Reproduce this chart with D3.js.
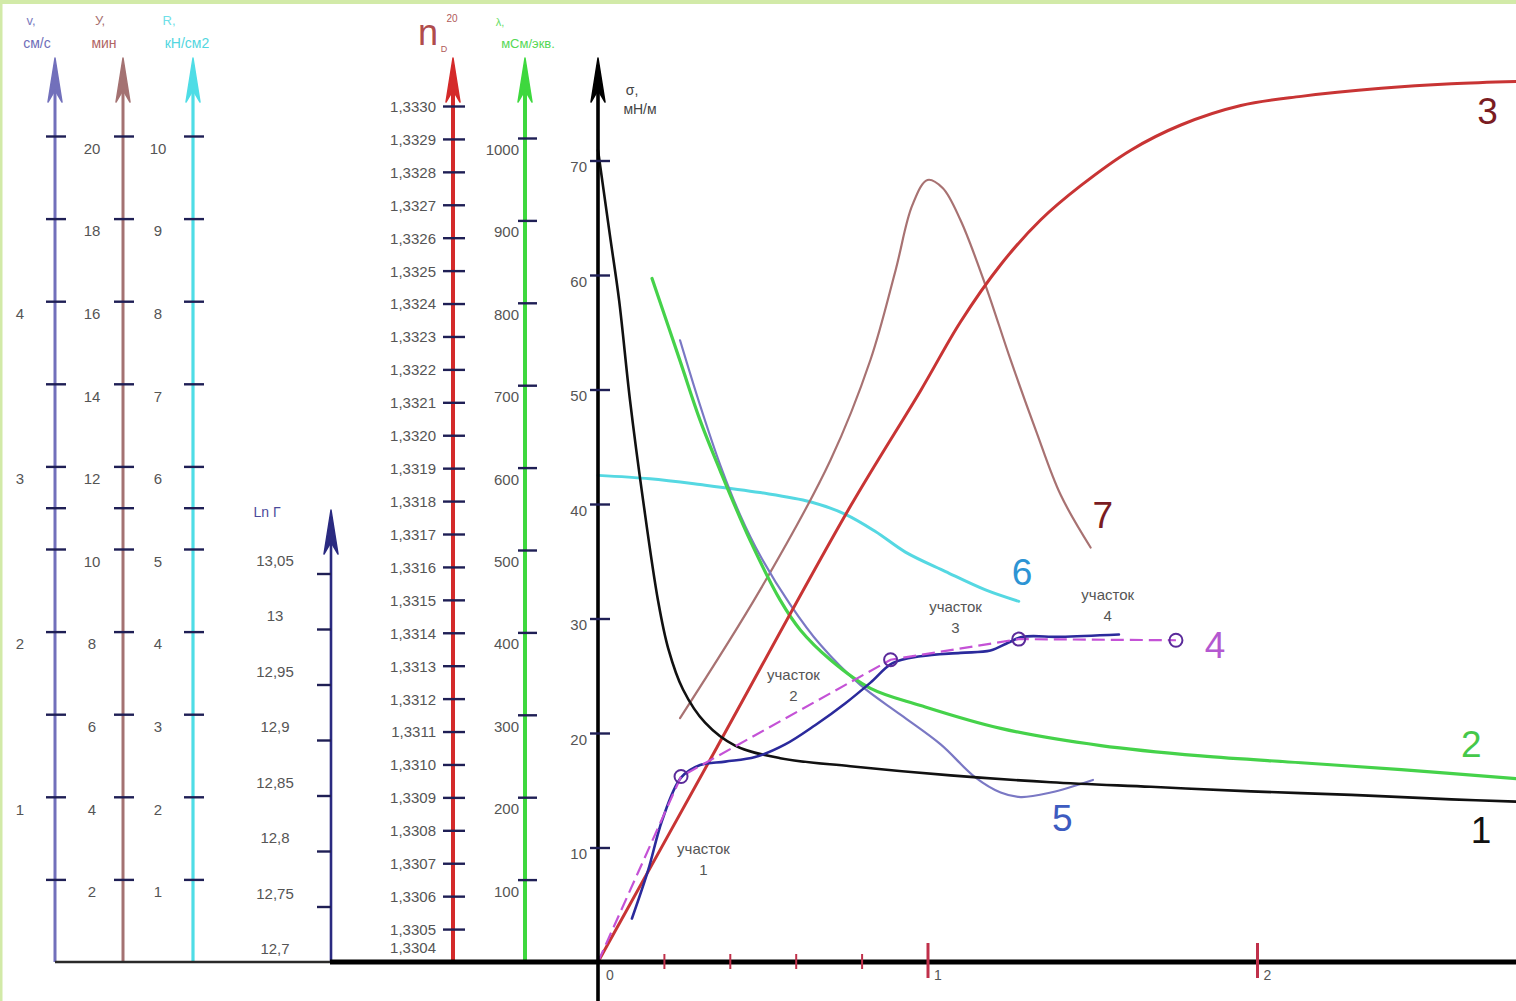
<!DOCTYPE html>
<html>
<head>
<meta charset="utf-8">
<script src="https://cdn.jsdelivr.net/npm/d3@7/dist/d3.min.js"></script>
<style>
  html, body { margin: 0; padding: 0; background: #ffffff; }
  svg { display: block; }
  text { font-family: "Liberation Sans", Arial, sans-serif; }
</style>
</head>
<body>
<script>
// ---- auxiliary scales (left side) ----
const speedTicks = [0.5, 1, 1.5, 2, 2.5, 2.75, 3, 3.5, 4, 4.5, 5];
const speedLabels = [1, 2, 3, 4];
const timeTicks = [2, 4, 6, 8, 10, 11, 12, 14, 16, 18, 20];
const timeLabels = [2, 4, 6, 8, 10, 12, 14, 16, 18, 20];
const forceTicks = [1, 2, 3, 4, 5, 5.5, 6, 7, 8, 9, 10];
const forceLabels = [1, 2, 3, 4, 5, 6, 7, 8, 9, 10];
const lnTicks = [12.75, 12.8, 12.85, 12.9, 12.95, 13, 13.05];
const lnLabels = [12.7, 12.75, 12.8, 12.85, 12.9, 12.95, 13, 13.05];
const refrTicks = [1.3305, 1.3306, 1.3307, 1.3308, 1.3309, 1.3310, 1.3311, 1.3312, 1.3313,
  1.3314, 1.3315, 1.3316, 1.3317, 1.3318, 1.3319, 1.3320, 1.3321, 1.3322, 1.3323, 1.3324,
  1.3325, 1.3326, 1.3327, 1.3328, 1.3329, 1.3330];
const refrBase = 1.3304;
const condTicks = [100, 200, 300, 400, 500, 600, 700, 800, 900, 1000];
const sigmaTicks = [10, 20, 30, 40, 50, 60, 70];
const xMinorTicks = [0.2, 0.4, 0.6, 0.8];
const xMajorTicks = [1, 2];

// ---- curves on the main field (x, σ) ----
const curve1 = [[0, 70.9], [0.036, 63.5], [0.064, 57.8], [0.097, 49.1], [0.137, 40.3], [0.182, 31.6],
  [0.213, 27.4], [0.258, 23.8], [0.325, 20.9], [0.416, 18.9], [0.553, 17.8], [0.766, 17.1],
  [1.070, 16.3], [1.374, 15.7], [1.678, 15.3], [1.982, 14.9], [2.286, 14.6], [2.590, 14.2], [2.790, 14.0]];
const curve2 = [[0.164, 59.7], [0.249, 52.5], [0.310, 47.3], [0.371, 42.9], [0.462, 36.8], [0.553, 31.6],
  [0.614, 29.0], [0.705, 26.4], [0.827, 23.9], [0.979, 22.4], [1.222, 20.4], [1.526, 18.9],
  [1.830, 18.0], [2.134, 17.4], [2.438, 16.8], [2.790, 16.0]];
const curve3 = [[0, 0], [0.362, 18.8], [0.766, 39.8], [0.979, 49.9], [1.100, 55.9], [1.222, 60.9],
  [1.343, 64.8], [1.465, 67.8], [1.617, 70.9], [1.769, 73.1], [1.951, 74.8], [2.134, 75.6],
  [2.377, 76.3], [2.590, 76.7], [2.790, 76.9]];
const curve5 = [[0.249, 54.3], [0.310, 48.6], [0.371, 43.4], [0.432, 39.0], [0.492, 35.5], [0.584, 31.2],
  [0.675, 27.7], [0.796, 24.2], [0.918, 21.6], [1.040, 19.0], [1.146, 16.1], [1.222, 14.8],
  [1.283, 14.4], [1.374, 14.8], [1.502, 15.9]];
const curve6 = [[0, 42.5], [0.158, 42.2], [0.310, 41.7], [0.492, 41.0], [0.644, 40.2], [0.751, 39.1],
  [0.842, 37.6], [0.933, 35.8], [1.055, 34.1], [1.176, 32.5], [1.277, 31.5]];
const curve7 = [[0.249, 21.3], [0.492, 32.5], [0.705, 43.8], [0.827, 52.6], [0.903, 60.4], [0.954, 66.1],
  [1.0, 68.3], [1.046, 67.6], [1.100, 64.8], [1.176, 59.1], [1.252, 52.6], [1.328, 46.5],
  [1.404, 40.8], [1.495, 36.2]];
const curve4Nodes = [[0, 0], [0.252, 16.2], [0.888, 26.4], [1.277, 28.2], [1.754, 28.1]];
const curve4Measured = [[0.103, 3.8], [0.152, 8.0], [0.195, 12.4], [0.252, 16.1], [0.310, 17.2],
  [0.386, 17.5], [0.477, 17.9], [0.568, 19.0], [0.660, 20.7], [0.751, 22.6], [0.827, 24.4],
  [0.894, 26.1], [0.979, 26.7], [1.100, 27.0], [1.191, 27.2], [1.246, 27.9], [1.289, 28.4],
  [1.404, 28.4], [1.581, 28.6]];

const curveNames = ["1", "2", "3", "4", "5", "6", "7"];
const curveNamePos = [[2.68, 11.5], [2.65, 19.0], [2.70, 74.3], [1.873, 27.6], [1.409, 12.5], [1.287, 34.0], [1.532, 39.0]];
const segmentNames = ["участок", "участок", "участок", "участок"];
const segmentNums = ["1", "2", "3", "4"];
const segmentPos = [[0.320, 9.4], [0.593, 24.6], [1.085, 30.6], [1.547, 31.6]];

// ---- layout ----
const W = 1516, H = 1001;
const baseY = 962;
const svg = d3.select("body").append("svg").attr("width", W).attr("height", H);

// light frame
svg.append("rect").attr("x", 0).attr("y", 0).attr("width", W).attr("height", 4).attr("fill", "#d2eaa8");
svg.append("rect").attr("x", 0).attr("y", 0).attr("width", 2.5).attr("height", H).attr("fill", "#d2eaa8");

const x = d3.scaleLinear().domain([0, 1]).range([598, 927.5]);
const y = d3.scaleLinear().domain([0, 70]).range([baseY, 160.5]);

const sSpeed = d3.scaleLinear().domain([0, 5]).range([baseY, 136]);
const sTime = d3.scaleLinear().domain([0, 20]).range([baseY, 136]);
const sForce = d3.scaleLinear().domain([0, 10]).range([baseY, 136]);
const sLn = d3.scaleLinear().domain([12.7, 13.05]).range([baseY, 573.5]);
const sRefr = d3.scaleLinear().domain([refrBase, 1.3330]).range([baseY, 106]);
const sCond = d3.scaleLinear().domain([0, 1000]).range([baseY, 138]);

const tickColor = "#1f1f55";
const labelColor = "#555";

// ---- curves ----
const line = d3.line().x(d => x(d[0])).y(d => y(d[1])).curve(d3.curveCatmullRom.alpha(0.5));
const plot = svg.append("g");
function drawCurve(data, color, width, dash) {
  plot.append("path").datum(data).attr("d", line)
    .attr("fill", "none").attr("stroke", color).attr("stroke-width", width)
    .attr("stroke-linejoin", "round").attr("stroke-linecap", "round")
    .attr("stroke-dasharray", dash || null);
}
drawCurve(curve6, "#55d8e2", 3);
drawCurve(curve7, "#a87272", 2.2);
drawCurve(curve5, "#7a78c4", 2.2);
drawCurve(curve2, "#45d24a", 3.2);
drawCurve(curve3, "#c83434", 3);
drawCurve(curve1, "#111", 2.6);
drawCurve(curve4Measured, "#2b2a9c", 2.6);
plot.append("path").datum(curve4Nodes)
  .attr("d", d3.line().x(d => x(d[0])).y(d => y(d[1])))
  .attr("fill", "none").attr("stroke", "#c452d6").attr("stroke-width", 2.2)
  .attr("stroke-dasharray", "13,6");
plot.selectAll("circle.node").data(curve4Nodes.slice(1)).join("circle")
  .attr("cx", d => x(d[0])).attr("cy", d => y(d[1])).attr("r", 6.5)
  .attr("fill", "none").attr("stroke", "#5a2a9a").attr("stroke-width", 2);

// ---- vertical axes ----
function arrowHead(g, cx, tipY, color, halfW, len) {
  g.append("path")
    .attr("d", `M${cx},${tipY} L${cx - halfW},${tipY + len} L${cx},${tipY + len - 12} L${cx + halfW},${tipY + len} Z`)
    .attr("fill", color).attr("stroke", color).attr("stroke-width", 1.5).attr("stroke-linejoin", "round");
}

function vAxis(opts) {
  const g = svg.append("g").attr("transform", `translate(${opts.x},0)`);
  g.append("line").attr("x1", 0).attr("x2", 0).attr("y1", baseY).attr("y2", opts.tipY + 10)
    .attr("stroke", opts.color).attr("stroke-width", opts.width);
  arrowHead(g, 0, opts.tipY, opts.color, opts.headW || 7, opts.headL || 44);
  const ax = d3.axisLeft(opts.scale).tickValues(opts.ticks).tickSizeOuter(0)
    .tickFormat(d => (opts.labels && opts.labels.includes(d)) ? opts.fmt(d) : "");
  const a = g.append("g").call(ax);
  a.select(".domain").remove();
  a.selectAll(".tick line").attr("x1", opts.tickR).attr("x2", -opts.tickL)
    .attr("stroke", tickColor).attr("stroke-width", 2.4);
  a.selectAll(".tick text").attr("x", opts.labelX).attr("dy", opts.labelDy)
    .attr("text-anchor", opts.anchor || "middle")
    .attr("fill", labelColor).style("font-size", (opts.fontSize || 15) + "px")
    .style("font-family", '"Liberation Sans", Arial, sans-serif');
  return g;
}

const comma = d => String(d).replace(".", ",");

vAxis({ x: 55, scale: sSpeed, ticks: speedTicks, labels: speedLabels, fmt: d => d, color: "#7270bb",
  width: 3, tipY: 58, tickL: 9, tickR: 11, labelX: -35, labelDy: "1.15em" });
vAxis({ x: 123, scale: sTime, ticks: timeTicks, labels: timeLabels, fmt: d => d, color: "#a47272",
  width: 3, tipY: 58, tickL: 9, tickR: 11, labelX: -31, labelDy: "1.15em" });
vAxis({ x: 193, scale: sForce, ticks: forceTicks, labels: forceLabels, fmt: d => d, color: "#4fdde6",
  width: 3.2, tipY: 58, tickL: 9, tickR: 11, labelX: -35, labelDy: "1.15em" });

// ln Г axis: ticks on the left only, labels above each tick
const gLn = vAxis({ x: 331, scale: sLn, ticks: lnTicks, labels: [], fmt: d => d, color: "#2a2a80",
  width: 2.6, tipY: 510, tickL: 14, tickR: 0, labelX: -56, labelDy: "0" });
gLn.selectAll("text.lnlab").data(lnLabels).join("text").attr("class", "lnlab")
  .attr("x", -56).attr("y", d => sLn(d) - 8).attr("text-anchor", "middle")
  .attr("fill", labelColor).style("font-size", "15px").text(comma);
gLn.append("text").attr("x", -64).attr("y", 517).attr("text-anchor", "middle")
  .attr("fill", "#4a4a9a").style("font-size", "14px").text("Ln Г");

// refractive index axis
const gN = vAxis({ x: 453, scale: sRefr, ticks: refrTicks, labels: refrTicks, fmt: d => comma(d.toFixed(4)),
  color: "#d42a2a", width: 4, tipY: 58, tickL: 10, tickR: 12, labelX: -17, labelDy: "0.36em",
  anchor: "end", fontSize: 15 });
gN.append("text").attr("x", -17).attr("y", sRefr(refrBase) - 9).attr("text-anchor", "end")
  .attr("fill", labelColor).style("font-size", "15px").text(comma(refrBase.toFixed(4)));

// conductivity axis
vAxis({ x: 525, scale: sCond, ticks: condTicks, labels: condTicks, fmt: d => d, color: "#3ed83e",
  width: 4, tipY: 58, tickL: 7, tickR: 12, labelX: -6, labelDy: "1.1em", anchor: "end", fontSize: 15 });

// surface tension axis
const gS = vAxis({ x: 598, scale: y, ticks: sigmaTicks, labels: sigmaTicks, fmt: d => d, color: "#000",
  width: 3.6, tipY: 58, tickL: 8, tickR: 12, labelX: -11, labelDy: "0.75em", anchor: "end", fontSize: 15 });
gS.append("line").attr("x1", 0).attr("x2", 0).attr("y1", baseY).attr("y2", H)
  .attr("stroke", "#000").attr("stroke-width", 3.6);

// ---- horizontal baseline and x axis ----
svg.append("line").attr("x1", 55).attr("x2", 333).attr("y1", baseY).attr("y2", baseY)
  .attr("stroke", "#2a2a2a").attr("stroke-width", 2.4);
svg.append("line").attr("x1", 330).attr("x2", W).attr("y1", baseY).attr("y2", baseY)
  .attr("stroke", "#000").attr("stroke-width", 5);

const gx = svg.append("g").attr("transform", `translate(0,${baseY})`);
const axMinor = gx.append("g").call(d3.axisBottom(x).tickValues(xMinorTicks).tickFormat("").tickSizeOuter(0));
axMinor.select(".domain").remove();
axMinor.selectAll(".tick line").attr("y1", -8).attr("y2", 7).attr("stroke", "#c0304a").attr("stroke-width", 2);
const axMajor = gx.append("g").call(d3.axisBottom(x).tickValues(xMajorTicks).tickFormat(d3.format("d")).tickSizeOuter(0));
axMajor.select(".domain").remove();
axMajor.selectAll(".tick line").attr("y1", -19).attr("y2", 16).attr("stroke", "#c0304a").attr("stroke-width", 3);
axMajor.selectAll(".tick text").attr("x", 10).attr("y", 8).attr("dy", "0.71em")
  .attr("fill", labelColor).style("font-size", "14px").style("font-family", '"Liberation Sans", Arial, sans-serif');
gx.append("text").attr("x", x(0) + 12).attr("y", 8).attr("dy", "0.71em").attr("text-anchor", "middle")
  .attr("fill", labelColor).style("font-size", "14px").text("0");

// ---- axis headers ----
function header(tx, ty, str, color, size, anchor) {
  svg.append("text").attr("x", tx).attr("y", ty).attr("text-anchor", anchor || "middle")
    .attr("fill", color).style("font-size", size + "px").text(str);
}
header(31, 25, "v,", "#7c7cc0", 13);
header(37, 48, "см/с", "#6e6eb8", 14);
header(100, 25, "У,", "#a87070", 13);
header(104, 48, "мин", "#b06464", 14);
header(169, 25, "R,", "#6fe0e8", 13);
header(187, 48, "кН/см2", "#52d6e0", 14);

header(428, 45, "n", "#b04c4c", 36);
header(452, 22, "20", "#b05a5a", 10);
header(444, 52, "D", "#b05a5a", 9);
header(500, 26, "λ,", "#66dd66", 11);
header(528, 48, "мСм/экв.", "#55d855", 13);

header(632, 95, "σ,", "#444", 14);
header(640, 114, "мН/м", "#444", 14);

// ---- curve numbers ----
const nameColors = ["#111", "#45c84a", "#7a1c22", "#b458d0", "#3d5bc0", "#2d94d4", "#7a1c22"];
svg.selectAll("text.cname").data(curveNames).join("text").attr("class", "cname")
  .attr("x", (d, i) => x(curveNamePos[i][0])).attr("y", (d, i) => y(curveNamePos[i][1]))
  .attr("text-anchor", "middle").attr("dominant-baseline", "central")
  .attr("fill", (d, i) => nameColors[i]).style("font-size", "37px").text(d => d);

// ---- segment captions ----
const segG = svg.selectAll("g.seg").data(segmentNames).join("g").attr("class", "seg")
  .attr("transform", (d, i) => `translate(${x(segmentPos[i][0])},${y(segmentPos[i][1])})`);
segG.append("text").attr("text-anchor", "middle").attr("y", 0)
  .attr("fill", labelColor).style("font-size", "15px").text(d => d);
segG.append("text").attr("text-anchor", "middle").attr("y", 21)
  .attr("fill", labelColor).style("font-size", "15px").text((d, i) => segmentNums[i]);
</script>
</body>
</html>
